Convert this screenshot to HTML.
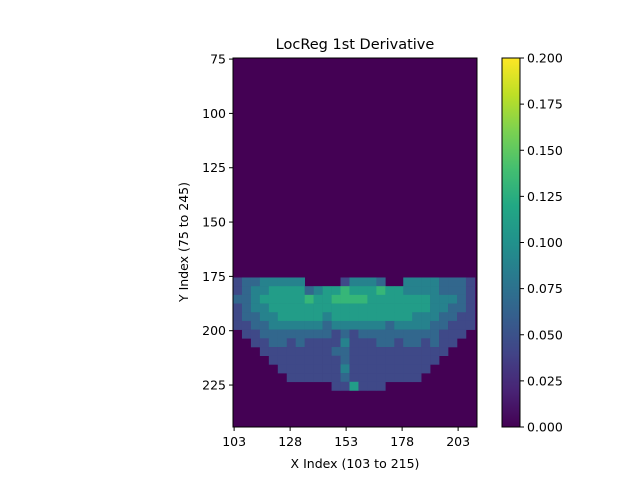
<!DOCTYPE html>
<html><head><meta charset="utf-8"><style>
body{margin:0;background:#fff;}
svg text{font-family:"DejaVu Sans","Liberation Sans",sans-serif;fill:#000;}
</style></head><body>
<svg id="chart" width="640" height="480" xmlns="http://www.w3.org/2000/svg">
<defs><linearGradient id="cb" x1="0" y1="1" x2="0" y2="0"></linearGradient></defs>
<text x="355" y="49" font-size="14.5" text-anchor="middle">LocReg 1st Derivative</text>
<g id="plot"></g>
<text x="355" y="468" font-size="12.5" text-anchor="middle">X Index (103 to 215)</text>
<text transform="translate(188,242) rotate(-90)" font-size="12.5" text-anchor="middle">Y Index (75 to 245)</text>
</svg>
<script>
// Coarse block values (digit * 0.022); block = 4x4 index units
const blockRows = [
"233444440000244430044443332",
"234455553455655565544443332",
"334555556556666555555544432",
"234455555555555555555544332",
"233445555545555555554443322",
"223344444434444443444433222",
"022333333332323333333332220",
"002233232222422233233232200",
"000222222223322222222222000",
"000022222222322222222220000",
"000002222222422222222200000",
"000000222222322222222000000",
"000000000002252220000000000"
];
const xTicks = [103,128,153,178,203];
const yTicks = [75,100,125,150,175,200,225];
const cbTicks = [0,0.025,0.05,0.075,0.1,0.125,0.15,0.175,0.2];
const blockSize = 4, x0 = 102.5, y0Data = 175.5, vmax = 0.2, digitScale = 0.022;

const NS="http://www.w3.org/2000/svg";
const xs = v => 233 + (v - 102.5) * 2.24;
const ys = v => 58 + (v - 74.5) * 2.173;
const stops=["#440154","#482475","#414487","#355f8d","#2a788e","#21918c","#22a884","#44bf70","#7ad151","#bddf26","#fde725"];
function viridis(t){t=Math.max(0,Math.min(1,t));const p=t*10,i=Math.min(9,Math.floor(p)),f=p-i;
 const a=parseInt(stops[i].slice(1),16),b=parseInt(stops[i+1].slice(1),16);
 const c=s=>Math.round(((a>>s)&255)*(1-f)+((b>>s)&255)*f);
 return `rgb(${c(16)},${c(8)},${c(0)})`;}
function mk(tag,attrs,parent){const e=document.createElementNS(NS,tag);for(const k in attrs)e.setAttribute(k,attrs[k]);parent.appendChild(e);return e;}
const plot=document.getElementById('plot');
const svg=document.getElementById('chart');
const bg=mk('rect',{x:233,y:58,width:244,height:369,fill:viridis(0)},plot);


blockRows.forEach((row,r)=>{[...row].forEach((ch,c)=>{
 const v=parseInt(ch)*digitScale; if(v<=0) return;
 const xa=xs(x0+c*blockSize), ya=ys(y0Data+r*blockSize);
 const cell=mk('rect',{x:xa,y:ya,width:xs(x0+(c+1)*blockSize)-xa+0.3,height:ys(y0Data+(r+1)*blockSize)-ya+0.3,fill:viridis(v/vmax)},plot);
 
 
});});
mk('rect',{x:233,y:58,width:244,height:369,fill:'none',stroke:'#000','stroke-width':1},plot);
xTicks.forEach(t=>{const x=xs(t);mk('line',{x1:x,x2:x,y1:427,y2:431,stroke:'#000'},plot);
 const tx=mk('text',{x:x,y:446,'font-size':12.5,'text-anchor':'middle'},plot);tx.textContent=t;
 
 });
yTicks.forEach(t=>{const y=ys(t);mk('line',{x1:229,x2:233,y1:y,y2:y,stroke:'#000'},plot);
 const tx=mk('text',{x:226,y:y+4.5,'font-size':12.5,'text-anchor':'end'},plot);tx.textContent=t;
 
 });
const g=document.getElementById('cb');
stops.forEach((s,i)=>mk('stop',{offset:(i/10),'stop-color':s},g));
const cbr=mk('rect',{x:502,y:58,width:18,height:369,fill:'url(#cb)',stroke:'#000','stroke-width':1},svg);


const cy=v=>427-v/vmax*369;
cbTicks.forEach(t=>{const y=cy(t);mk('line',{x1:520,x2:524,y1:y,y2:y,stroke:'#000'},svg);
 const tx=mk('text',{x:527,y:y+4.5,'font-size':12.5},svg);tx.textContent=t.toFixed(3);
 
 });
</script>
</body></html>
